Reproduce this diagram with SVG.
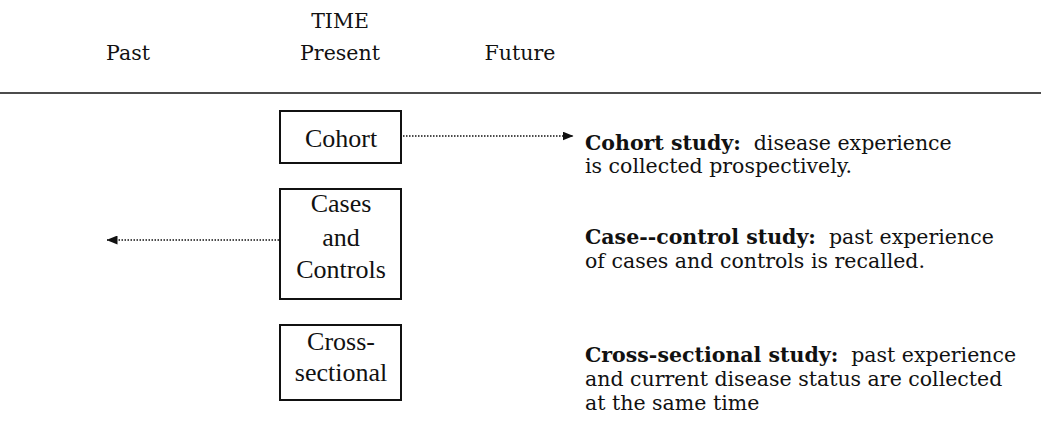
<svg xmlns="http://www.w3.org/2000/svg" width="1041" height="447" viewBox="0 0 1041 447">
<style>
.hdr{font-family:"DejaVu Serif","Liberation Serif",serif;font-size:20.5px;fill:#111;text-anchor:middle}
.box{fill:#fff;stroke:#111;stroke-width:2}
.bt{font-family:"Liberation Serif","Times New Roman",serif;font-size:26px;fill:#111;text-anchor:middle}
.desc{font-family:"DejaVu Serif","Liberation Serif",serif;font-size:20.5px;fill:#111}
.b{font-weight:bold}
.conn{stroke:#111;stroke-width:1.5;stroke-dasharray:1.5 1.5;fill:none}
</style>
<defs>
<marker id="ah" markerWidth="11" markerHeight="9" refX="10.5" refY="4.5" orient="auto" markerUnits="userSpaceOnUse">
<path d="M0,0 L11,4.5 L0,9 Z" fill="#111"/>
</marker>
</defs>
<g id="header">
<text class="hdr" x="340" y="28">TIME</text>
<text class="hdr" x="128" y="60">Past</text>
<text class="hdr" x="340" y="60">Present</text>
<text class="hdr" x="520" y="60">Future</text>
<line x1="0" y1="93" x2="1041" y2="93" stroke="#111" stroke-width="1.3"/>
</g>
<g id="connectors">
<line class="conn" x1="403" y1="136" x2="573" y2="136" marker-end="url(#ah)"/>
<line class="conn" x1="279" y1="240" x2="107" y2="240" marker-end="url(#ah)"/>
</g>
<g id="cohort">
<rect class="box" x="280" y="111" width="121" height="52"/>
<text class="bt" x="341" y="147">Cohort</text>
</g>
<g id="cases">
<rect class="box" x="280" y="189" width="121" height="110"/>
<text class="bt" x="341" y="212">Cases</text>
<text class="bt" x="341" y="246">and</text>
<text class="bt" x="341" y="278">Controls</text>
</g>
<g id="cross">
<rect class="box" x="280" y="325" width="121" height="75"/>
<text class="bt" x="341" y="350">Cross-</text>
<text class="bt" x="341" y="381">sectional</text>
</g>
<g id="cohort-desc">
<text class="desc" x="585" y="150" xml:space="preserve"><tspan class="b">Cohort study:</tspan>  disease experience</text>
<text class="desc" x="585" y="173">is collected prospectively.</text>
</g>
<g id="casecontrol-desc">
<text class="desc" x="585" y="244" xml:space="preserve"><tspan class="b">Case--control study:</tspan>  past experience</text>
<text class="desc" x="585" y="268">of cases and controls is recalled.</text>
</g>
<g id="cross-desc">
<text class="desc" x="585" y="362" xml:space="preserve"><tspan class="b">Cross-sectional study:</tspan>  past experience</text>
<text class="desc" x="585" y="386">and current disease status are collected</text>
<text class="desc" x="585" y="410">at the same time</text>
</g>
</svg>
